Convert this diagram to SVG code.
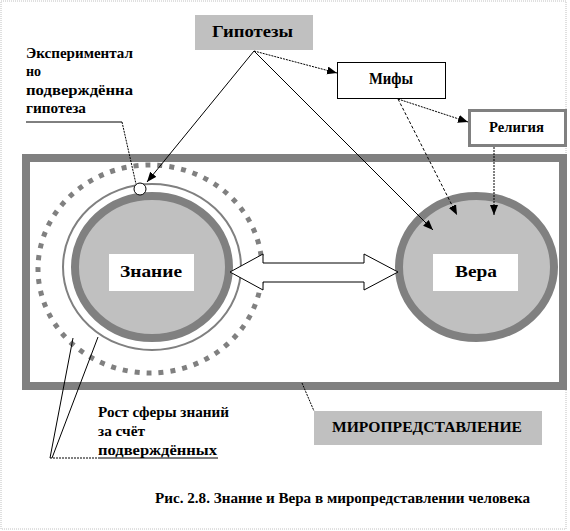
<svg xmlns="http://www.w3.org/2000/svg" width="570" height="531" viewBox="0 0 570 531">
<defs>
<marker id="ah" markerUnits="userSpaceOnUse" markerWidth="11" markerHeight="9" refX="10" refY="4" orient="auto">
<path d="M0,0 L10,4 L0,8 z" fill="#000"/>
</marker>
<style>
text{font-family:'Liberation Serif','DejaVu Serif','Times New Roman',serif;font-weight:bold;fill:#000}
.ln{fill:none;stroke:#000;stroke-width:1}
.dt{stroke-dasharray:2 1}
.ds{stroke-dasharray:3 2}
.ring{fill:#c0c0c0;stroke:#808080;stroke-width:8}
.lbl{fill:#fff}
</style>
</defs>
<rect x="1" y="1" width="565" height="528" fill="#fff" stroke="#c0c0c0" stroke-width="1" stroke-dasharray="1 1"/>
<g id="miropredstavlenie-frame">
<rect x="26" y="158" width="537" height="228" fill="#fff" stroke="#808080" stroke-width="8"/>
</g>
<g font-family="Liberation Serif, DejaVu Serif, serif" font-weight="bold">
<g id="znanie">
<ellipse cx="150" cy="269" rx="112" ry="104" fill="none" stroke="#808080" stroke-width="5" stroke-dasharray="5 7"/>
<ellipse cx="152" cy="267" rx="89" ry="83" fill="none" stroke="#808080" stroke-width="2"/>
<ellipse class="ring" cx="152" cy="267" rx="77" ry="71"/>
<rect class="lbl" x="109" y="254" width="85" height="37"/>
<text x="151" y="277" font-size="17" text-anchor="middle" textLength="62" lengthAdjust="spacingAndGlyphs">Знание</text>
</g>
<g id="hypothesis-point">
<circle cx="140" cy="189" r="6" fill="#fff" stroke="#000" stroke-width="1"/>
</g>
<g id="vera">
<ellipse class="ring" cx="476.5" cy="267" rx="77.5" ry="71"/>
<rect class="lbl" x="433" y="254" width="85" height="37"/>
<text x="476" y="277" font-size="17" text-anchor="middle" textLength="42" lengthAdjust="spacingAndGlyphs">Вера</text>
</g>
<g id="double-arrow">
<path d="M230,272 L263,254 L263,263 L364,263 L364,254 L398,272 L364,290 L364,282 L263,282 L263,290 z" fill="#fff" stroke="#000" stroke-width="1"/>
</g>
<g id="gipotezy">
<rect x="195" y="15" width="118" height="35" fill="#c0c0c0"/>
<text x="252.5" y="37" font-size="17" text-anchor="middle" textLength="81" lengthAdjust="spacingAndGlyphs">Гипотезы</text>
</g>
<g id="mify">
<rect x="337.5" y="62.5" width="108" height="36" fill="#fff" stroke="#000" stroke-width="1"/>
<text x="391" y="84" font-size="16" text-anchor="middle" textLength="44" lengthAdjust="spacingAndGlyphs">Мифы</text>
</g>
<g id="religiya">
<rect x="469.5" y="110.5" width="96" height="35" fill="#fff" stroke="#808080" stroke-width="3"/>
<text x="516.5" y="132" font-size="14" text-anchor="middle" textLength="55" lengthAdjust="spacingAndGlyphs">Религия</text>
</g>
<g id="mirop-label">
<rect x="314" y="411" width="228" height="34" fill="#c0c0c0"/>
<text x="427" y="432" font-size="15" text-anchor="middle" textLength="190" lengthAdjust="spacingAndGlyphs">МИРОПРЕДСТАВЛЕНИЕ</text>
</g>
<g id="exp-label">
<text x="26" y="58" font-size="14" textLength="107" lengthAdjust="spacingAndGlyphs">Экспериментал</text>
<text x="26" y="76" font-size="14">но</text>
<text x="26" y="95" font-size="14" textLength="107" lengthAdjust="spacingAndGlyphs">подверждённа</text>
<text x="26" y="113" font-size="14" textLength="60" lengthAdjust="spacingAndGlyphs">гипотеза</text>
</g>
<g id="rost-label">
<text x="98" y="417" font-size="15" textLength="131" lengthAdjust="spacingAndGlyphs">Рост сферы знаний</text>
<text x="98" y="436" font-size="15" textLength="47" lengthAdjust="spacingAndGlyphs">за счёт</text>
<text x="98" y="455" font-size="15" textLength="119" lengthAdjust="spacingAndGlyphs">подверждённых</text>
</g>
<g id="caption">
<text x="155" y="503" font-size="14" textLength="375" lengthAdjust="spacingAndGlyphs">Рис. 2.8. Знание и Вера в миропредставлении человека</text>
</g>
</g>
<g id="connectors">
<path class="ln" d="M254,51 L147,182" marker-end="url(#ah)"/>
<path class="ln dt" d="M254,51 L337,73" marker-end="url(#ah)"/>
<path class="ln" d="M254,51 L433,230" marker-end="url(#ah)"/>
<path class="ln dt" d="M398,99 L468,122" marker-end="url(#ah)"/>
<path class="ln ds" d="M398,99 L457,215" marker-end="url(#ah)"/>
<path class="ln dt" d="M494,147 L494,215" marker-end="url(#ah)"/>
<path class="ln" d="M26,122 L122,122"/>
<path class="ln dt" d="M122,122 L136,184"/>
<path class="ln dt" d="M50,458 L98,458"/>
<path class="ln" d="M98,458 L218,458" stroke="#404040"/>
<path class="ln" d="M50,458 L73,338"/>
<path class="ln" d="M52,458 L98,337"/>
<path class="ln dt" d="M302,383 L314,411"/>
</g>
</svg>
